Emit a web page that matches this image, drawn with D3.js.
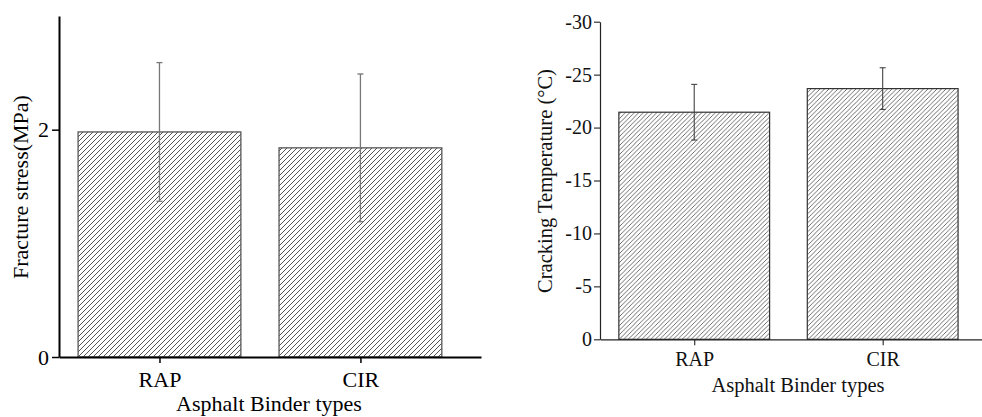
<!DOCTYPE html>
<html>
<head>
<meta charset="utf-8">
<script src="https://cdn.jsdelivr.net/npm/d3@7"></script>
<style>
  html, body { margin: 0; padding: 0; background: #fff; }
  svg { display: block; font-family: "Liberation Serif", "Times New Roman", serif; }
</style>
</head>
<body>
<svg id="chart" width="982" height="417"></svg>
<script>
// Binder types and measured results
const categories = ["RAP", "CIR"];
const fractureStress = [1.98, 1.84];      // MPa
const fractureStressErr = [0.61, 0.65];
const crackingTemp = [-21.45, -23.68];    // °C
const crackingTempErr = [2.63, 1.97];
const stressTicks = [0, 2];
const tempTicks = [0, -5, -10, -15, -20, -25, -30];

// plain hyphen-minus for negative tick labels
const intLabel = v => String(Math.round(v));

const svg = d3.select("#chart");
const defs = svg.append("defs");

// Diagonal "///" hatching, drawn on whole pixels
function hatch(id, w, color) {
  const p = defs.append("pattern")
    .attr("id", id)
    .attr("patternUnits", "userSpaceOnUse")
    .attr("width", w).attr("height", w);
  p.append("rect").attr("width", w).attr("height", w).attr("fill", "#fff");
  p.append("path")
    .attr("d", `M0,${w} L${w},0 M${-w / 2},${w / 2} L${w / 2},${-w / 2} M${w / 2},${w * 1.5} L${w * 1.5},${w / 2}`)
    .attr("stroke", color).attr("stroke-width", 1).attr("shape-rendering", "crispEdges");
}
hatch("hatchA", 5, "#555");
hatch("hatchB", 4.5, "#5e5e5e");

// ---------- Left panel: fracture stress ----------
{
  const x = d3.scaleLinear().domain([-0.5, 1.6]).range([59, 481]);
  const y = d3.scaleLinear().domain([0, 3]).range([357, 16]);
  const barW = 0.81;
  const g = svg.append("g");

  g.selectAll("rect.bar").data(categories).join("rect")
    .attr("class", "bar")
    .attr("x", (d, i) => x(i - barW / 2))
    .attr("width", (d, i) => x(i + barW / 2) - x(i - barW / 2))
    .attr("y", (d, i) => y(fractureStress[i]))
    .attr("height", (d, i) => y(0) - y(fractureStress[i]))
    .attr("fill", "url(#hatchA)")
    .attr("stroke", "#555").attr("stroke-width", 1.3);

  const eb = g.selectAll("g.err").data(categories).join("g").attr("class", "err")
    .attr("stroke", "#777").attr("stroke-width", 1.3);
  eb.append("line")
    .attr("x1", (d, i) => x(i)).attr("x2", (d, i) => x(i))
    .attr("y1", (d, i) => y(fractureStress[i] + fractureStressErr[i]))
    .attr("y2", (d, i) => y(fractureStress[i] - fractureStressErr[i]));
  [1, -1].forEach(s => {
    eb.append("line")
      .attr("x1", (d, i) => x(i) - 3).attr("x2", (d, i) => x(i) + 3)
      .attr("y1", (d, i) => y(fractureStress[i] + s * fractureStressErr[i]))
      .attr("y2", (d, i) => y(fractureStress[i] + s * fractureStressErr[i]));
  });

  // y axis: major ticks labelled, minor every 1
  const yAxis = g.append("g").attr("transform", `translate(${x(-0.5)},0)`);
  yAxis.call(d3.axisLeft(y).tickValues([1, 3]).tickSize(4).tickFormat(""));
  yAxis.call(d3.axisLeft(y).tickValues(stressTicks).tickSize(7).tickSizeOuter(0).tickPadding(3).tickFormat(intLabel));
  yAxis.selectAll("path.domain").attr("stroke", "#000").attr("stroke-width", 2);
  yAxis.selectAll("line").attr("stroke", "#000").attr("stroke-width", 1.5);
  yAxis.selectAll("text").attr("font-size", 22).attr("font-family", "Liberation Serif").attr("fill", "#000");

  // x axis: categories with minor ticks between
  const xAxis = g.append("g").attr("transform", `translate(0,${y(0)})`);
  xAxis.call(d3.axisBottom(x).tickValues([0.5, 1.5]).tickSize(4).tickSizeOuter(0).tickFormat(""));
  xAxis.call(d3.axisBottom(x).tickValues([0, 1]).tickSize(6).tickSizeOuter(0).tickPadding(8)
    .tickFormat(i => categories[i]));
  xAxis.selectAll("path.domain").attr("stroke", "#000").attr("stroke-width", 2);
  xAxis.selectAll("line").attr("stroke", "#000").attr("stroke-width", 1.5);
  xAxis.selectAll("text").attr("font-size", 22).attr("font-family", "Liberation Serif").attr("fill", "#000");

  g.append("text").attr("x", 269).attr("y", 411).attr("text-anchor", "middle")
    .attr("font-size", 22).attr("fill", "#000").text("Asphalt Binder types");
  g.append("text").attr("transform", "translate(28,187) rotate(-90)").attr("text-anchor", "middle")
    .attr("font-size", 22).attr("fill", "#000").text("Fracture stress(MPa)");
}

// ---------- Right panel: cracking temperature ----------
{
  const x = d3.scaleLinear().domain([-0.5, 1.527]).range([600, 982]);
  const y = d3.scaleLinear().domain([0, -30]).range([339.3, 21.7]);
  const barW = 0.8;
  const g = svg.append("g");

  g.selectAll("rect.bar").data(categories).join("rect")
    .attr("class", "bar")
    .attr("x", (d, i) => x(i - barW / 2))
    .attr("width", (d, i) => x(i + barW / 2) - x(i - barW / 2))
    .attr("y", (d, i) => y(crackingTemp[i]))
    .attr("height", (d, i) => y(0) - y(crackingTemp[i]))
    .attr("fill", "url(#hatchB)")
    .attr("stroke", "#333").attr("stroke-width", 1.2);

  const eb = g.selectAll("g.err").data(categories).join("g").attr("class", "err")
    .attr("stroke", "#444").attr("stroke-width", 1.1);
  eb.append("line")
    .attr("x1", (d, i) => x(i)).attr("x2", (d, i) => x(i))
    .attr("y1", (d, i) => y(crackingTemp[i] - crackingTempErr[i]))
    .attr("y2", (d, i) => y(crackingTemp[i] + crackingTempErr[i]));
  [1, -1].forEach(s => {
    eb.append("line")
      .attr("x1", (d, i) => x(i) - 3).attr("x2", (d, i) => x(i) + 3)
      .attr("y1", (d, i) => y(crackingTemp[i] + s * crackingTempErr[i]))
      .attr("y2", (d, i) => y(crackingTemp[i] + s * crackingTempErr[i]));
  });

  const minor = d3.range(-2.5, -30, -5);
  const yAxis = g.append("g").attr("transform", `translate(${x(-0.5)},0)`);
  yAxis.call(d3.axisLeft(y).tickValues(minor).tickSize(3).tickFormat(""));
  yAxis.call(d3.axisLeft(y).tickValues(tempTicks).tickSize(6).tickSizeOuter(0).tickPadding(2).tickFormat(intLabel));
  yAxis.selectAll("path.domain").attr("stroke", "#222").attr("stroke-width", 1.2);
  yAxis.selectAll("line").attr("stroke", "#222").attr("stroke-width", 1.1);
  yAxis.selectAll("text").attr("font-size", 20).attr("font-family", "Liberation Serif").attr("fill", "#111");

  const xAxis = g.append("g").attr("transform", `translate(0,${y(0)})`);
  xAxis.call(d3.axisBottom(x).tickValues([0.5, 1.5]).tickSize(3).tickSizeOuter(0).tickFormat(""));
  xAxis.call(d3.axisBottom(x).tickValues([0, 1]).tickSize(6).tickSizeOuter(0).tickPadding(7)
    .tickFormat(i => categories[i]));
  xAxis.selectAll("path.domain").attr("stroke", "#222").attr("stroke-width", 1.2);
  xAxis.selectAll("line").attr("stroke", "#222").attr("stroke-width", 1.1);
  xAxis.selectAll("text").attr("font-size", 20).attr("font-family", "Liberation Serif").attr("fill", "#111");

  g.append("text").attr("x", 798).attr("y", 392).attr("text-anchor", "middle")
    .attr("font-size", 20.5).attr("fill", "#111").text("Asphalt Binder types");
  g.append("text").attr("transform", "translate(552,181) rotate(-90)").attr("text-anchor", "middle")
    .attr("font-size", 20.5).attr("fill", "#111").text("Cracking Temperature (°C)");
}
</script>
</body>
</html>
